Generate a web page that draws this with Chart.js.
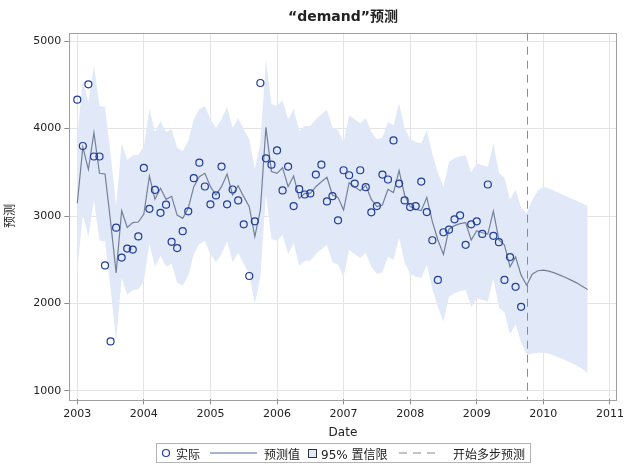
<!DOCTYPE html>
<html>
<head>
<meta charset="utf-8">
<script src="https://cdn.jsdelivr.net/npm/chart.js@4.4.1/dist/chart.umd.min.js"></script>
<style>
  body { margin: 0; background: #fff; }
  #wrap { position: relative; width: 627px; height: 466px; font-family: "DejaVu Sans", "Noto Sans CJK SC", sans-serif; color: #222; }
  #title { position: absolute; left: 193px; width: 300px; top: 5px; text-align: center; font-weight: bold; font-size: 14px; }
  #legend { position: absolute; left: 156px; top: 443px; width: 373px; height: 18px; border: 1px solid #b4b4b4; font-size: 12px; }
  #legend span { position: absolute; top: 1px; white-space: nowrap; }
  #legend svg { position: absolute; left: 0; top: 0; }
</style>
</head>
<body>
<div id="wrap">
  <canvas id="chart" width="627" height="466"></canvas>
  <div id="title">“demand”预测</div>
  <div id="legend">
    <svg width="373" height="18">
      <circle cx="9" cy="9" r="3.5" fill="none" stroke="#1f3d99" stroke-width="1.2"/>
      <line x1="53" y1="9" x2="100" y2="9" stroke="#4d68a8" stroke-width="1"/>
      <rect x="151.5" y="5.5" width="8" height="8" fill="#e1e9f8" stroke="#333" stroke-width="1"/>
      <line x1="242" y1="9" x2="284" y2="9" stroke="#888" stroke-width="1" stroke-dasharray="8,6"/>
    </svg>
    <span style="left:19px">实际</span>
    <span style="left:107px">预测值</span>
    <span style="left:164px">95% 置信限</span>
    <span style="left:296px">开始多步预测</span>
  </div>
</div>
<script>
// Data (monthly, first month = Jan 2003)
const startYear = 2003;
const actual = [
  4330, 3800, 4505, 3680, 3680, 2435, 1567, 2867, 2525, 2628, 2616, 2766,
  3550, 3082, 3298, 3036, 3129, 2705, 2633, 2826, 3053, 3432, 3610, 3337,
  3133, 3235, 3565, 3133, 3303, 3178, 2905, 2314, 2939, 4520, 3659, 3587,
  3750, 3292, 3565, 3114, 3307, 3246, 3258, 3473, 3587, 3167, 3227, 2951,
  3523, 3466, 3371, 3523, 3330, 3042, 3114, 3473, 3417, 3864, 3371, 3178,
  3102, 3114, 3394, 3045, 2723, 2269, 2814, 2844, 2962, 3008, 2670, 2905,
  2939, 2795, 3360, 2773, 2701, 2269, 2530, 2190, 1962
];
const predicted = [
  3145, 3785, 3533, 3953, 3488, 3480, 2935, 2350, 3060, 2870, 2924, 2931,
  3023, 3457, 3190, 3316, 3190, 3225, 3010, 2973, 3088, 3335, 3450, 3488,
  3335, 3240, 3335, 3480, 3240, 3347, 3221, 3107, 2764, 3069, 4013, 3507,
  3488, 3552, 3335, 3457, 3202, 3259, 3259, 3335, 3392, 3442, 3240, 3213,
  3069, 3381, 3335, 3290, 3350, 3190, 3107, 3126, 3305, 3267, 3518, 3240,
  3107, 3076, 3061, 3213, 2935, 2726, 2560, 2850, 2890, 2912, 2924, 2726,
  2832, 2809, 2794, 3057, 2725, 2668, 2419, 2534, 2324,
  2209, 2335, 2374, 2381, 2370, 2350, 2324, 2297, 2267, 2236, 2198, 2160
];
const lower95 = [
  2375, 3015, 2763, 3183, 2718, 2710, 2165, 1580, 2290, 2100, 2154, 2161,
  2253, 2687, 2420, 2546, 2420, 2455, 2240, 2203, 2318, 2565, 2680, 2718,
  2565, 2470, 2565, 2710, 2470, 2577, 2451, 2337, 1994, 2299, 3243, 2737,
  2718, 2782, 2565, 2687, 2432, 2489, 2489, 2565, 2622, 2672, 2470, 2443,
  2299, 2611, 2565, 2520, 2580, 2420, 2337, 2356, 2535, 2497, 2748, 2470,
  2337, 2306, 2291, 2443, 2165, 1956, 1790, 2080, 2120, 2142, 2154, 1956,
  2062, 2039, 2024, 2287, 1955, 1898, 1649, 1764, 1554,
  1418, 1426, 1438, 1438, 1426, 1403, 1380, 1350, 1323, 1292, 1254, 1205
];
const upper95 = [
  3915, 4555, 4303, 4723, 4258, 4250, 3705, 3120, 3830, 3640, 3694, 3701,
  3793, 4227, 3960, 4086, 3960, 3995, 3780, 3743, 3858, 4105, 4220, 4258,
  4105, 4010, 4105, 4250, 4010, 4117, 3991, 3877, 3534, 3839, 4783, 4277,
  4258, 4322, 4105, 4227, 3972, 4029, 4029, 4105, 4162, 4212, 4010, 3983,
  3839, 4151, 4105, 4060, 4120, 3960, 3877, 3896, 4075, 4037, 4288, 4010,
  3877, 3846, 3831, 3983, 3705, 3496, 3330, 3620, 3660, 3682, 3694, 3496,
  3602, 3579, 3564, 3827, 3495, 3438, 3189, 3304, 3094,
  3030, 3182, 3289, 3334, 3315, 3289, 3258, 3228, 3201, 3175, 3144, 3114
];
const forecastStartIndex = 81; // Oct 2009, first multi-step forecast
const xTicks = [2003, 2004, 2005, 2006, 2007, 2008, 2009, 2010, 2011];
const yTicks = [1000, 2000, 3000, 4000, 5000];

// month index -> decimal year
function monthX(i) {
  return startYear + i / 12;
}
function toPoints(values) {
  return values.map((v, i) => ({ x: monthX(i), y: v }));
}

Chart.defaults.font.family = '"DejaVu Sans", "Noto Sans CJK SC", sans-serif';
Chart.defaults.color = '#222';

// Plot frame + forecast start line
const framePlugin = {
  id: 'frame',
  afterDatasetsDraw(chart) {
    const { ctx, chartArea, scales } = chart;
    const x = scales.x.getPixelForValue(monthX(forecastStartIndex));
    ctx.save();
    ctx.strokeStyle = '#8c8c8c';
    ctx.lineWidth = 1;
    ctx.setLineDash([8, 6]);
    ctx.beginPath();
    ctx.moveTo(Math.round(x) + 0.5, chartArea.top);
    ctx.lineTo(Math.round(x) + 0.5, chartArea.bottom);
    ctx.stroke();
    ctx.restore();
  },
  afterDraw(chart) {
    const { ctx, chartArea } = chart;
    ctx.save();
    ctx.strokeStyle = '#a0a0a0';
    ctx.lineWidth = 1;
    ctx.strokeRect(Math.round(chartArea.left) + 0.5, Math.round(chartArea.top) + 0.5,
      Math.round(chartArea.right - chartArea.left), Math.round(chartArea.bottom - chartArea.top));
    ctx.restore();
  }
};

const ctx = document.getElementById('chart').getContext('2d');
new Chart(ctx, {
  type: 'line',
  data: {
    datasets: [
      {
        label: '实际',
        data: toPoints(actual),
        showLine: false,
        pointRadius: 3.5,
        pointBorderWidth: 1.2,
        pointBorderColor: '#1f3d99',
        pointBackgroundColor: 'rgba(0,0,0,0)',
        order: 0
      },
      {
        label: '预测值',
        data: toPoints(predicted),
        borderColor: '#74809a',
        borderWidth: 1.2,
        pointRadius: 0,
        tension: 0,
        order: 1
      },
      {
        label: 'lower',
        data: toPoints(lower95),
        borderWidth: 0,
        borderColor: 'rgba(0,0,0,0)',
        pointRadius: 0,
        fill: false,
        order: 3
      },
      {
        label: '95% 置信限',
        data: toPoints(upper95),
        borderWidth: 0,
        borderColor: 'rgba(0,0,0,0)',
        backgroundColor: '#e1e9f8',
        pointRadius: 0,
        fill: 2,
        order: 2
      }
    ]
  },
  options: {
    responsive: false,
    animation: false,
    layout: { padding: { left: 0, right: 10.3, top: 32.7, bottom: 22.2 } },
    plugins: {
      legend: { display: false },
      tooltip: { enabled: false },
      title: { display: false }
    },
    scales: {
      x: {
        type: 'linear',
        min: 2002.88,
        max: 2011.1,
        afterBuildTicks: scale => { scale.ticks = xTicks.map(v => ({ value: v })); },
        afterFit: scale => { scale.height = 44.5; },
        ticks: { font: { size: 11 }, color: '#222', padding: 3, maxRotation: 0, callback: v => String(v) },
        grid: { color: '#e4e4e4', tickColor: '#8c8c8c', tickLength: 5 },
        border: { display: false },
        title: { display: true, text: 'Date', font: { size: 12 }, color: '#222', padding: { top: 4, bottom: 4 } }
      },
      y: {
        type: 'linear',
        min: 905,
        max: 5095,
        afterBuildTicks: scale => { scale.ticks = yTicks.map(v => ({ value: v })); },
        afterFit: scale => { scale.width = 69.3; },
        ticks: { font: { size: 11 }, color: '#222', padding: 3, callback: v => String(v) },
        grid: { color: '#e4e4e4', tickColor: '#8c8c8c', tickLength: 5 },
        border: { display: false },
        title: { display: true, text: '预测', font: { size: 12 }, color: '#222', padding: { top: 4, bottom: 4 } }
      }
    }
  },
  plugins: [framePlugin]
});
</script>
</body>
</html>
